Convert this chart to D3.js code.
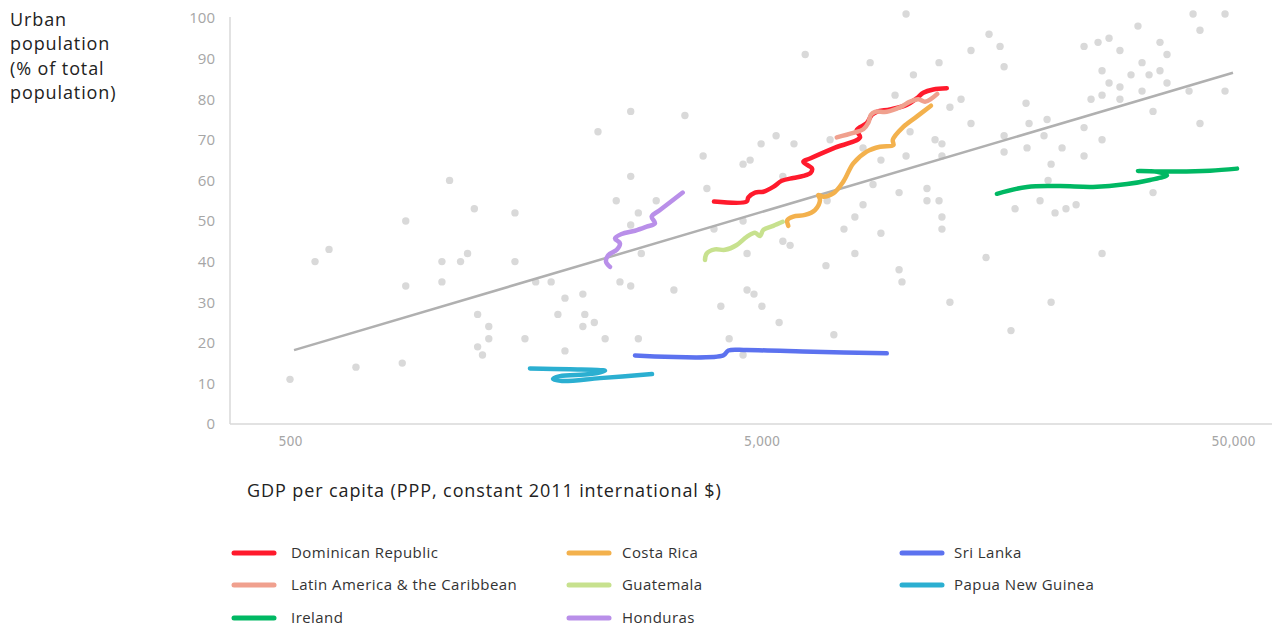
<!DOCTYPE html>
<html>
<head>
<meta charset="utf-8">
<script src="https://cdn.jsdelivr.net/npm/d3@7"></script>
<style>
  html, body { margin: 0; padding: 0; background: #fff; }
  svg { display: block; }
  text { font-family: "Open Sans", "Noto Sans", sans-serif; }
</style>
</head>
<body>
<svg id="chart" width="1272" height="626"></svg>
<script>
// ---------------- DATA ----------------
const yTicks = [0, 10, 20, 30, 40, 50, 60, 70, 80, 90, 100];
const xTicks = [500, 5000, 50000];
const xTickLabels = ["500", "5,000", "50,000"];

// All countries (grey scatter): GDP per capita (PPP) and urban population %
const scatterGDP = [1090,1230,1500,880,605,565,1050,1150,1190,1500,880,1050,1660,1790,1915,2090,1250,1850,2110,1320,2090,1320,1575,1250,1280,1915,690,865,500,
  10130,6190,8500,10500,9600,2640,3440,2250,5370,4990,5860,6990,10330,8210,3760,4570,4730,10130,8960,2640,5550,8620,3830,2460,2990,9790,11220,11220,6890,8210,2740,7890,
  2640,4570,3965,7480,8960,2780,4660,5550,5750,7890,6850,9790,9930,2505,2640,3260,4660,4820,4100,5010,2210,5450,2330,2740,4270,7120,4570,
  41150,48100,42560,31440,15190,16030,13910,16350,11900,24160,25870,27300,28790,35010,36230,32070,26380,30390,33190,35010,27300,28790,36230,32070,40350,48100,
  25000,26380,28790,33840,42560,13250,12550,18200,13910,18470,20170,19870,24160,16350,11670,12070,12070,16350,18290,21700,26380,24160,20570,20270,33840,
  11900,12070,17250,19490,20970,22120,23240,12070,14970,26380,12550,20570,16910];
const scatterUrban = [60,53,52,50,43,40,40,40,42,40,34,35,35,35,31,32,27,27,27,24,24,21,21,19,17,18,14,15,11,
  101,91,89,86,81,77,76,72,71,69,69,70,72,68,66,64,65,66,65,61,61,59,58,55,55,57,58,55,55,54,52,51,
  49,50,48,48,47,42,42,45,44,42,39,38,35,35,34,33,33,32,29,29,25,25,21,21,21,22,17,
  101,101,97,98,96,93,92,88,89,93,94,95,92,94,91,89,87,86,86,87,84,83,84,82,82,82,
  80,81,80,77,74,80,78,79,74,74,75,71,73,71,70,69,66,67,68,68,70,66,64,60,57,
  55,51,53,55,52,53,54,48,41,42,30,30,23];

// Fitted trend line (end points)
const trendGDP = [510, 50000];
const trendUrban = [18.2, 86.5];

// Country trajectories [GDP per capita, urban %]
const dominicanRepublic = [[3965,54.8],[4652,54.8],[4689,55.8],[4844,57.0],[5045,57.2],[5296,58.4],[5519,59.9],[5840,60.6],[6134,61.1],[6360,61.9],[6401,62.9],[6134,64.6],[6337,65.4],[7100,67.9],[8090,70.6],[7961,72.4],[8360,74.1],[8566,76.1],[8776,76.9],[9368,77.5],[10160,78.6],[10670,80.2],[11020,81.6],[11570,82.4],[12360,82.7]];
const latinAmerica = [[7220,70.6],[7829,71.7],[8222,72.6],[8425,74.2],[8525,76.1],[8705,76.9],[9218,76.9],[9835,78.0],[10330,79.4],[10755,80.0],[11115,79.4],[11485,80.2],[11800,81.3]];
const ireland = [[15790,56.7],[18290,58.4],[21490,58.6],[25240,58.4],[29810,59.1],[33350,60.1],[36230,61.3],[34510,62.1],[31440,62.3],[38050,62.2],[44700,62.4],[51000,62.9]];
const costaRica = [[5700,48.8],[5672,50.2],[5840,51.1],[6186,51.5],[6493,52.7],[6654,55.2],[6599,56.4],[6762,56.0],[7100,56.8],[7456,59.7],[7829,64.2],[8360,67.1],[8920,68.3],[9522,68.7],[9494,70.0],[9995,73.2],[10670,75.7],[11440,78.4]];
const guatemala = [[3794,40.4],[3826,42.0],[3984,43.0],[4185,42.9],[4431,44.1],[4652,46.1],[4844,47.1],[4964,46.3],[5045,47.8],[5296,48.8],[5546,49.8]];
const honduras = [[2386,38.7],[2340,40.0],[2366,41.6],[2466,42.9],[2505,44.5],[2445,45.7],[2526,46.8],[2696,47.6],[2854,48.6],[2972,49.4],[2925,51.1],[3046,52.7],[3403,57.0]];
const sriLanka = [[2696,16.9],[4150,16.9],[4253,18.1],[4652,18.2],[6440,17.8],[9218,17.4]];
const papuaNewGuinea = [[1614,13.7],[1963,13.5],[2329,13.1],[2164,12.3],[1869,11.8],[1806,11.1],[1887,10.6],[2272,11.3],[2930,12.3]];

const seriesNames = ["Dominican Republic","Latin America & the Caribbean","Ireland","Costa Rica","Guatemala","Honduras","Sri Lanka","Papua New Guinea"];
const seriesData = [dominicanRepublic, latinAmerica, ireland, costaRica, guatemala, honduras, sriLanka, papuaNewGuinea];
const seriesColors = ["#ff1a2c","#f0a08e","#00b863","#f3b14d","#c7e18e","#b98fe9","#5c72ef","#2bafd1"];

// ---------------- CHART ----------------
const svg = d3.select("#chart");
const x = d3.scaleLog().domain([373, 60500]).range([230, 1272]);
const y = d3.scaleLinear().domain([0, 100]).range([424, 18]);

// axes frame
svg.append("line").attr("x1", 230).attr("x2", 230).attr("y1", 17).attr("y2", 424)
  .attr("stroke", "#d9d9d9").attr("stroke-width", 1.5);
svg.append("line").attr("x1", 230).attr("x2", 1272).attr("y1", 424).attr("y2", 424)
  .attr("stroke", "#d9d9d9").attr("stroke-width", 1.5);

// y tick labels
const yAxis = d3.axisLeft(y).tickValues(yTicks).tickSize(0).tickPadding(0).tickFormat(d3.format("d"));
const gy = svg.append("g").attr("transform", "translate(215,0)").call(yAxis);
gy.select(".domain").remove();
gy.selectAll("text").attr("fill", "#a6a6a6").attr("font-size", 15)
  .style("font-family", "'Open Sans', 'Noto Sans', sans-serif");

// x tick labels
const xAxis = d3.axisBottom(x).tickValues(xTicks).tickSize(0).tickPadding(0)
  .tickFormat((d, i) => xTickLabels[i]);
const gx = svg.append("g").attr("transform", "translate(0,436)").call(xAxis);
gx.select(".domain").remove();
gx.selectAll("text").attr("fill", "#a6a6a6").attr("font-size", 14)
  .style("font-family", "'Liberation Sans Narrow', 'DejaVu Sans Condensed', sans-serif");

// scatter
svg.append("g").selectAll("circle")
  .data(scatterGDP.map((g, i) => [g, scatterUrban[i]]))
  .join("circle")
  .attr("cx", d => x(d[0])).attr("cy", d => y(d[1]))
  .attr("r", 3.7).attr("fill", "#d9d9d9");

// trend
svg.append("line")
  .attr("x1", x(trendGDP[0])).attr("y1", y(trendUrban[0]))
  .attr("x2", x(trendGDP[1])).attr("y2", y(trendUrban[1]))
  .attr("stroke", "#b0b0b0").attr("stroke-width", 2.5);

// country lines
const lineGen = d3.line().x(d => x(d[0])).y(d => y(d[1])).curve(d3.curveCatmullRom.alpha(0.5));
const drawOrder = [0, 1, 3, 4, 5, 6, 7, 2];
drawOrder.forEach(i => {
  svg.append("path").datum(seriesData[i])
    .attr("d", lineGen)
    .attr("fill", "none")
    .attr("stroke", seriesColors[i])
    .attr("stroke-width", 4.5)
    .attr("stroke-linecap", "round")
    .attr("stroke-linejoin", "round");
});

// axis titles
const yTitle = svg.append("text").attr("x", 10).attr("y", 26).attr("font-size", 18)
  .attr("letter-spacing", 0.9).attr("fill", "#222");
["Urban", "population", "(% of total", "population)"].forEach((t, i) => {
  yTitle.append("tspan").attr("x", 10).attr("dy", i === 0 ? 0 : 24.3).text(t);
});
svg.append("text").attr("x", 247).attr("y", 497).attr("font-size", 18).attr("letter-spacing", 0.9)
  .attr("fill", "#222").text("GDP per capita (PPP, constant 2011 international $)");

// legend
const legendLineX = [232, 567, 900];
const legendTextX = [291, 622, 954];
const legendRows = [553, 585, 618];
const legendPos = [[0,0],[0,1],[0,2],[1,0],[1,1],[1,2],[2,0],[2,1]];
seriesNames.forEach((name, i) => {
  const [c, r] = legendPos[i];
  const ly = legendRows[r];
  svg.append("line").attr("x1", legendLineX[c] + 2).attr("x2", legendLineX[c] + 42).attr("y1", ly).attr("y2", ly)
    .attr("stroke", seriesColors[i]).attr("stroke-width", 5).attr("stroke-linecap", "round");
  svg.append("text").attr("x", legendTextX[c]).attr("y", ly + 5).attr("font-size", 15)
    .attr("letter-spacing", 0.45).attr("fill", "#333").text(name);
});
</script>
</body>
</html>
